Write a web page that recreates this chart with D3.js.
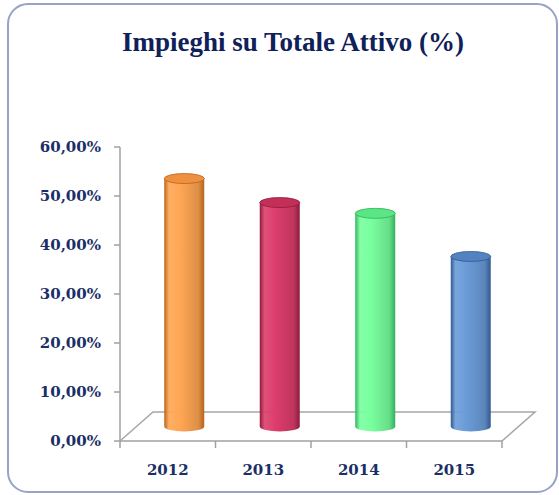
<!DOCTYPE html>
<html>
<head>
<meta charset="utf-8">
<script src="https://cdn.jsdelivr.net/npm/d3@7"></script>
<style>
	body { margin: 0; background: #fff; }
	svg { display: block; }
	.tick-label { font-family: "DejaVu Serif", serif; font-weight: bold; font-size: 15px; fill: #1b2f66; }
	.title { font-family: "Liberation Serif", serif; font-weight: bold; font-size: 27px; fill: #0f2158; }
</style>
</head>
<body>
<div id="chart"></div>
<script>
// data
var years = ['2012', '2013', '2014', '2015'];
var values = [50.6, 45.7, 43.5, 34.7];
var yTicks = [0, 10, 20, 30, 40, 50, 60];
var colors = [
	{ dark: '#b9621c', mid: '#ffa653', top: '#ee9040' },
	{ dark: '#8c1a3c', mid: '#dc3d6b', top: '#c42f58' },
	{ dark: '#2fb35c', mid: '#78ff9e', top: '#5ce585' },
	{ dark: '#31598f', mid: '#6a9bd8', top: '#5282c0' }
];

var W = 559, H = 495;
var svg = d3.select('#chart').append('svg').attr('width', W).attr('height', H);
var defs = svg.append('defs');

// frame
svg.append('rect')
	.attr('x', 8).attr('y', 4).attr('width', 549).attr('height', 488)
	.attr('rx', 20).attr('ry', 20)
	.style('fill', 'none').style('stroke', '#95a3c6').style('stroke-width', 2);

svg.append('text').attr('class', 'title')
	.attr('x', 293).attr('y', 51)
	.attr('text-anchor', 'middle')
	.text('Impieghi su Totale Attivo (%)');

var x = d3.scaleBand().domain(years).range([120, 502]).paddingInner(0);
var y = d3.scaleLinear().domain([0, 60]).range([441, 147]);
var depth = { dx: 33, dy: -29 };

// floor
var floor = svg.append('g').style('stroke', '#a6a6a6').style('stroke-width', 1.5).style('fill', 'none');
floor.append('path').attr('d', 'M' + x.range()[0] + ',' + y(0) +
	' l' + depth.dx + ',' + depth.dy +
	' H' + (x.range()[1] + depth.dx) +
	' l' + (-depth.dx) + ',' + (-depth.dy));

// y axis
var yAxis = svg.append('g').style('stroke', '#a0a0a0').style('stroke-width', 1.5);
yAxis.append('line').attr('x1', 120).attr('x2', 120).attr('y1', y(60)).attr('y2', y(0));
yAxis.selectAll('.yt').data(yTicks).enter().append('line')
	.attr('x1', 114).attr('x2', 120)
	.attr('y1', function(d){ return y(d); }).attr('y2', function(d){ return y(d); });
svg.selectAll('.ylab').data(yTicks).enter().append('text')
	.attr('class', 'tick-label')
	.attr('x', 101).attr('y', function(d){ return y(d); })
	.attr('dy', '0.35em').attr('text-anchor', 'end')
	.text(function(d){ return d3.format('.2f')(d).replace('.', ',') + '%'; });

// x axis
var xAxis = svg.append('g').style('stroke', '#a0a0a0').style('stroke-width', 1.5);
xAxis.append('line').attr('x1', 120).attr('x2', 502).attr('y1', y(0)).attr('y2', y(0));
var xt = years.map(function(d){ return x(d); }).concat([x.range()[1]]);
xAxis.selectAll('.xt').data(xt).enter().append('line')
	.attr('x1', function(d){ return d; }).attr('x2', function(d){ return d; })
	.attr('y1', y(0)).attr('y2', y(0) + 7);
svg.selectAll('.xlab').data(years).enter().append('text')
	.attr('class', 'tick-label')
	.attr('x', function(d){ return x(d) + x.bandwidth() / 2; })
	.attr('y', 470).attr('dy', '0.35em').attr('text-anchor', 'middle')
	.text(function(d){ return d; });

// cylinders
var rx = 20, ry = 5;
years.forEach(function(yr, i){
	var c = colors[i];
	var g = defs.append('linearGradient').attr('id', 'grad' + i).attr('x1', 0).attr('x2', 1).attr('y1', 0).attr('y2', 0);
	g.append('stop').attr('offset', '0%').attr('stop-color', c.dark);
	g.append('stop').attr('offset', '12%').attr('stop-color', c.mid).attr('stop-opacity', 0.9);
	g.append('stop').attr('offset', '40%').attr('stop-color', c.mid);
	g.append('stop').attr('offset', '85%').attr('stop-color', d3.color(c.mid).darker(0.4));
	g.append('stop').attr('offset', '100%').attr('stop-color', c.dark);

	var cx = x(yr) + x.bandwidth() / 2 + depth.dx / 2;
	var yBase = y(0) + depth.dy / 2;
	var yTop = yBase - (y(0) - y(values[i]));
	var cyl = svg.append('g');
	cyl.append('path')
		.attr('d', 'M' + (cx - rx) + ',' + yTop +
			' V' + yBase +
			' A' + rx + ',' + ry + ' 0 0,0 ' + (cx + rx) + ',' + yBase +
			' V' + yTop + ' Z')
		.style('fill', 'url(#grad' + i + ')');
	cyl.append('ellipse')
		.attr('cx', cx).attr('cy', yTop).attr('rx', rx).attr('ry', ry)
		.style('fill', c.top).style('stroke', c.dark).style('stroke-width', 0.8);
});
</script>
</body>
</html>
